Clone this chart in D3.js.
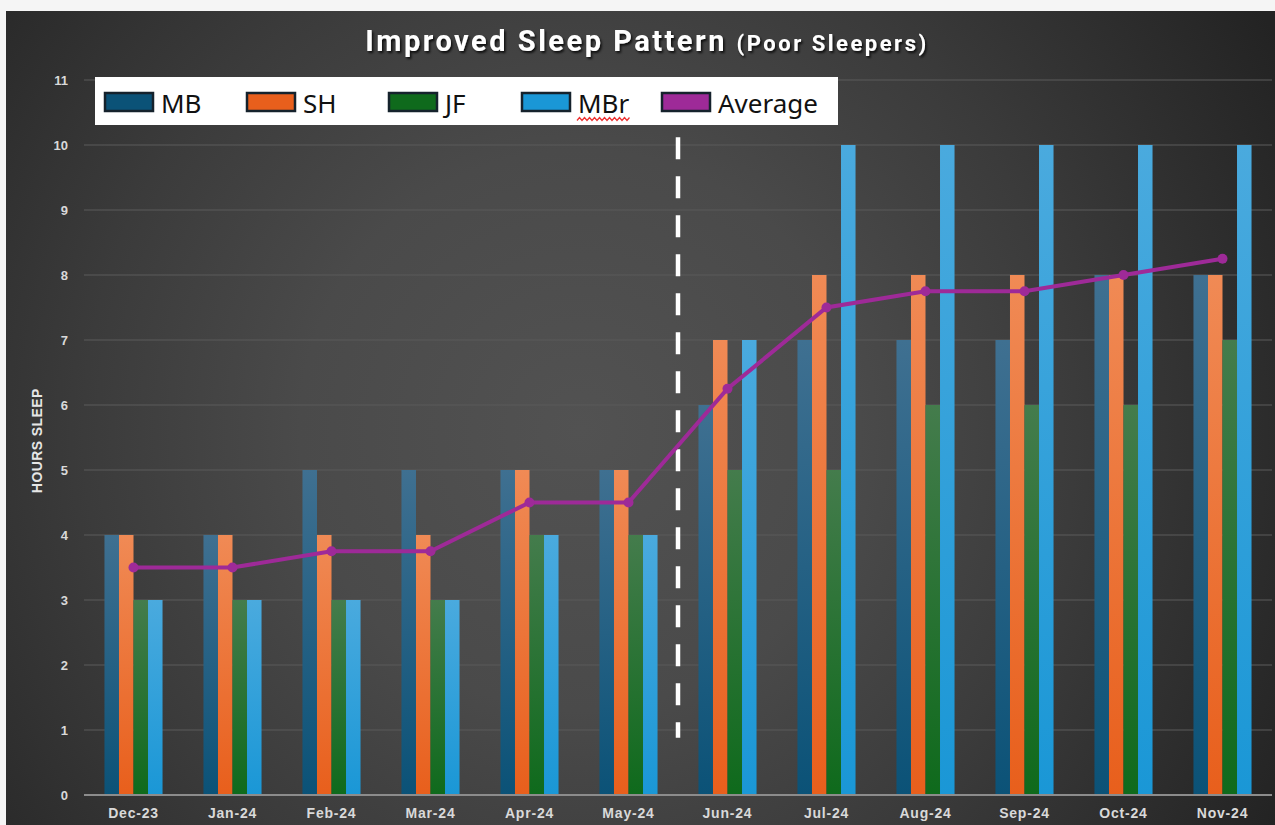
<!DOCTYPE html>
<html>
<head>
<meta charset="utf-8">
<script src="https://cdn.jsdelivr.net/npm/d3@7"></script>
<style>
  body { margin: 0; background: #f5f5f5; }
  svg { display: block; }
</style>
</head>
<body>
<script>
var months = ['Dec-23', 'Jan-24', 'Feb-24', 'Mar-24', 'Apr-24', 'May-24',
              'Jun-24', 'Jul-24', 'Aug-24', 'Sep-24', 'Oct-24', 'Nov-24']
var seriesNames = ['MB', 'SH', 'JF', 'MBr']
var mb  = [4, 4, 5, 5, 5, 5, 6, 7, 7, 7, 8, 8]
var sh  = [4, 4, 4, 4, 5, 5, 7, 8, 8, 8, 8, 8]
var jf  = [3, 3, 3, 3, 4, 4, 5, 5, 6, 6, 6, 7]
var mbr = [3, 3, 3, 3, 4, 4, 7, 10, 10, 10, 10, 10]
var average = [3.5, 3.5, 3.75, 3.75, 4.5, 4.5, 6.25, 7.5, 7.75, 7.75, 8, 8.25]
var yTicks = d3.range(0, 12)
// dashed divider sits between these two months
var splitAfter = 'May-24', splitBefore = 'Jun-24'

var colors = {
  MB:  ['#3f7091', '#0b5277'],
  SH:  ['#f08a55', '#e85f1c'],
  JF:  ['#447c4c', '#0f6a1c'],
  MBr: ['#4aaade', '#1a97d6'],
  Average: '#9e2a98'
}

var width = 1275, height = 825
var margin = {left: 84, right: 3, top: 80, bottom: 30}

var svg = d3.select('body').append('svg')
  .attr('width', width).attr('height', height)

var defs = svg.append('defs')

var bg = defs.append('radialGradient').attr('id', 'bg')
  .attr('gradientUnits', 'userSpaceOnUse')
  .attr('cx', 580).attr('cy', 430).attr('r', 800)
bg.append('stop').attr('offset', '0').attr('stop-color', '#525252')
bg.append('stop').attr('offset', '0.35').attr('stop-color', '#4a4a4a')
bg.append('stop').attr('offset', '0.62').attr('stop-color', '#3b3b3b')
bg.append('stop').attr('offset', '1').attr('stop-color', '#232323')

seriesNames.forEach(function(s){
  var g = defs.append('linearGradient').attr('id', 'g-' + s)
    .attr('x1', 0).attr('y1', 0).attr('x2', 0).attr('y2', 1)
  g.append('stop').attr('offset', '0').attr('stop-color', colors[s][0])
  g.append('stop').attr('offset', '1').attr('stop-color', colors[s][1])
})

var shadow = defs.append('filter').attr('id', 'shadow')
  .attr('x', '-10%').attr('y', '-30%').attr('width', '120%').attr('height', '160%')
shadow.append('feDropShadow').attr('dx', 1.5).attr('dy', 2)
  .attr('stdDeviation', 1.2).attr('flood-color', '#000').attr('flood-opacity', 0.8)

svg.append('rect').attr('x', 6).attr('y', 11)
  .attr('width', width - 6).attr('height', height - 11)
  .attr('fill', 'url(#bg)')

var x = d3.scaleBand().domain(months)
  .range([margin.left, width - margin.right])
var x1 = d3.scaleBand().domain(seriesNames)
  .range([0, x.bandwidth()]).paddingInner(0).paddingOuter(1.41)
var y = d3.scaleLinear().domain([0, 11])
  .range([height - margin.bottom, margin.top])

// grid
svg.append('g').selectAll('line').data(yTicks.filter(function(d){ return d > 0 }))
  .join('line')
  .attr('x1', margin.left).attr('x2', width - margin.right)
  .attr('y1', y).attr('y2', y)
  .attr('stroke', '#5a5a5a').attr('stroke-opacity', 0.7).attr('stroke-width', 1.5)

// y axis
var yAxis = svg.append('g')
  .attr('transform', 'translate(' + margin.left + ',0)')
  .call(d3.axisLeft(y).tickValues(yTicks).tickSize(0).tickPadding(16))
yAxis.select('.domain').remove()
yAxis.selectAll('text')
  .attr('fill', '#d9d9d9').attr('font-family', 'Liberation Sans, Arial, sans-serif')
  .attr('font-size', 13).attr('font-weight', 'bold')

svg.append('text')
  .attr('transform', 'translate(42,' + y(5.45) + ') rotate(-90)')
  .attr('text-anchor', 'middle')
  .attr('fill', '#e6e6e6').attr('font-family', 'Liberation Sans, Arial, sans-serif')
  .attr('font-size', 14).attr('font-weight', 'bold').attr('letter-spacing', 0.4)
  .text('HOURS SLEEP')

// bars
var seriesData = {MB: mb, SH: sh, JF: jf, MBr: mbr}
var groups = svg.append('g').selectAll('g').data(months).join('g')
  .attr('transform', function(d){ return 'translate(' + x(d) + ',0)' })
groups.selectAll('rect')
  .data(function(m, i){ return seriesNames.map(function(s){ return {s: s, v: seriesData[s][i]} }) })
  .join('rect')
  .attr('x', function(d){ return x1(d.s) })
  .attr('width', x1.bandwidth())
  .attr('y', function(d){ return y(d.v) })
  .attr('height', function(d){ return y(0) - y(d.v) })
  .attr('fill', function(d){ return 'url(#g-' + d.s + ')' })

// baseline
svg.append('line')
  .attr('x1', margin.left).attr('x2', width - margin.right)
  .attr('y1', y(0)).attr('y2', y(0))
  .attr('stroke', '#8c8c8c').attr('stroke-width', 2)

// x axis
var xAxis = svg.append('g')
  .attr('transform', 'translate(0,' + y(0) + ')')
  .call(d3.axisBottom(x).tickSize(0).tickPadding(13))
xAxis.select('.domain').remove()
xAxis.selectAll('text')
  .attr('fill', '#d9d9d9').attr('font-family', 'Liberation Sans, Arial, sans-serif')
  .attr('font-size', 14).attr('font-weight', 'bold').attr('letter-spacing', 0.8)

// dashed divider
var splitX = (x(splitAfter) + x(splitBefore) + x.bandwidth()) / 2
svg.append('line')
  .attr('x1', splitX).attr('x2', splitX)
  .attr('y1', y(10.12)).attr('y2', y(0.88))
  .attr('stroke', '#fff').attr('stroke-width', 4.5)
  .attr('stroke-dasharray', '22,17')

// average line
var cx = function(d, i){ return x(months[i]) + x.bandwidth() / 2 }
var line = d3.line().x(cx).y(function(d){ return y(d) })
svg.append('path').attr('d', line(average))
  .attr('fill', 'none').attr('stroke', colors.Average).attr('stroke-width', 4)
svg.append('g').selectAll('circle').data(average).join('circle')
  .attr('cx', cx).attr('cy', function(d){ return y(d) }).attr('r', 5)
  .attr('fill', colors.Average)

// title
var title = svg.append('text')
  .attr('x', 647).attr('y', 51).attr('text-anchor', 'middle')
  .attr('fill', '#fff').attr('font-family', 'Roboto, sans-serif')
  .attr('font-weight', 'bold').attr('letter-spacing', 2.5)
  .attr('filter', 'url(#shadow)')
title.append('tspan').attr('font-size', 29).text('Improved Sleep Pattern ')
title.append('tspan').attr('font-size', 22).text('(Poor Sleepers)')

// legend
var legend = svg.append('g')
legend.append('rect').attr('x', 95).attr('y', 77).attr('width', 743).attr('height', 48)
  .attr('fill', '#fff')
var legendItems = seriesNames.concat(['Average'])
var legendX = [105, 247, 389, 522, 662]
var li = legend.selectAll('g.item').data(legendItems).join('g')
  .attr('class', 'item')
  .attr('transform', function(d, i){ return 'translate(' + legendX[i] + ',93)' })
li.append('rect').attr('width', 48).attr('height', 18)
  .attr('fill', function(d){ return d == 'Average' ? colors.Average : colors[d][1] })
  .attr('stroke', '#15222c').attr('stroke-width', 2.5)
li.append('text').attr('x', 56).attr('y', 20)
  .attr('font-family', 'Noto Sans, sans-serif').attr('font-size', 26)
  .attr('fill', '#111').text(function(d){ return d })

// spell-check squiggle under MBr
var sq = d3.range(0, 54, 2.5).map(function(d, i){ return [577 + d, 119 + (i % 2 ? -1.5 : 1.5)] })
legend.append('path').attr('d', d3.line()(sq))
  .attr('fill', 'none').attr('stroke', '#e33').attr('stroke-width', 1.3)
</script>
</body>
</html>
